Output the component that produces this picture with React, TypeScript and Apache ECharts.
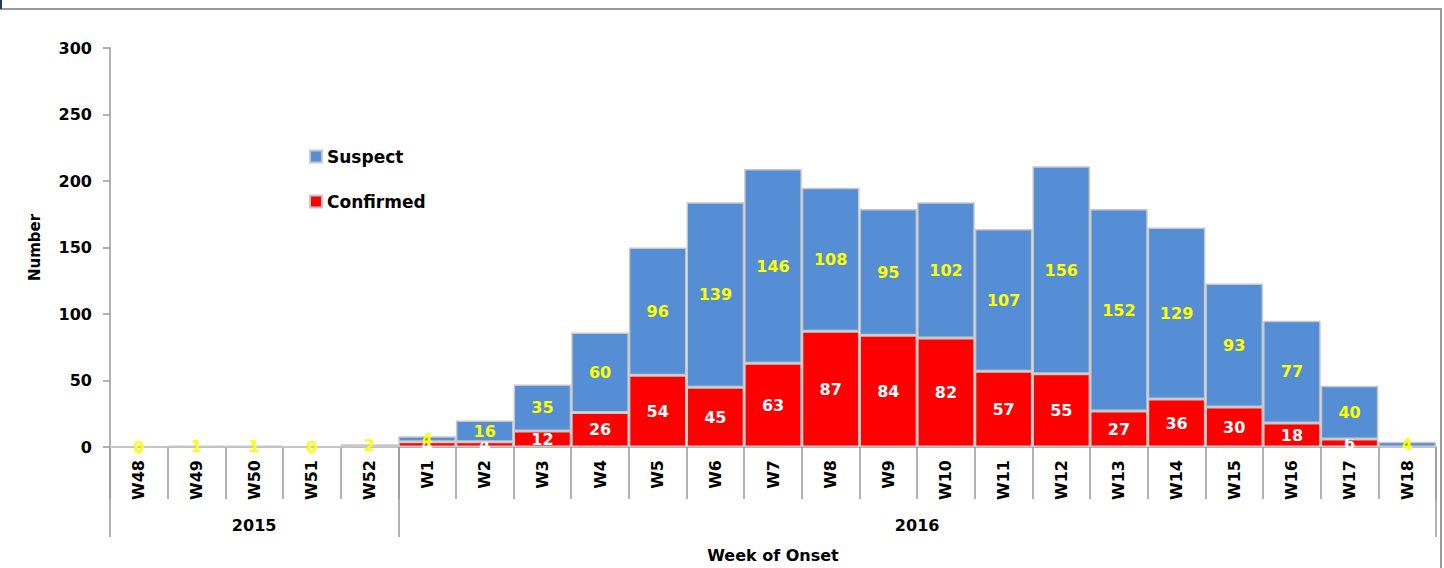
import React, { useEffect, useRef } from "react";
import * as echarts from "echarts";

const weeks = ["W48", "W49", "W50", "W51", "W52", "W1", "W2", "W3", "W4", "W5", "W6", "W7", "W8", "W9", "W10", "W11", "W12", "W13", "W14", "W15", "W16", "W17", "W18"];
const years = ["2015", "2016"];
const weeksPerYear = [5, 18];
const confirmed = [0, 0, 0, 0, 0, 4, 4, 12, 26, 54, 45, 63, 87, 84, 82, 57, 55, 27, 36, 30, 18, 6, 0];
const suspect = [0, 1, 1, 0, 2, 4, 16, 35, 60, 96, 139, 146, 108, 95, 102, 107, 156, 152, 129, 93, 77, 40, 4];
const yMin = 0;
const yMax = 300;
const yStep = 50;

const FONT = "DejaVu Sans";

export default function App() {
  const ref = useRef<HTMLDivElement>(null);

  useEffect(() => {
    if (!ref.current) return;
    const chart = echarts.init(ref.current, null, { renderer: "svg" });

    // year grouping axis built on half-category points
    const n = weeks.length;
    const yearAxisData: string[] = new Array(2 * n + 1).fill("");
    const boundaries = new Set<number>([0]);
    let start = 0;
    years.forEach((y, i) => {
      const c = weeksPerYear[i];
      yearAxisData[2 * start + c] = y;
      start += c;
      boundaries.add(2 * start);
    });

    chart.setOption({
      animation: false,
      backgroundColor: "#ffffff",
      textStyle: { fontFamily: FONT, fontWeight: "bold" },
      graphic: [
        {
          type: "rect",
          shape: { x: -2, y: 9, width: 1443, height: 580 },
          style: { fill: "none", stroke: "#9a9a9a", lineWidth: 2 },
          silent: true,
        },
        {
          type: "line",
          shape: { x1: 1, y1: 0, x2: 1, y2: 9 },
          style: { stroke: "#1f3864", lineWidth: 2 },
          silent: true,
        },
      ],
      legend: {
        data: ["Suspect", "Confirmed"],
        orient: "vertical",
        left: 304,
        top: 143,
        itemGap: 28,
        itemWidth: 12,
        itemHeight: 12,
        icon: "rect",
        textStyle: { fontFamily: FONT, fontWeight: "bold", fontSize: 17, color: "#000" },
      },
      grid: { left: 110, right: 8, top: 48, bottom: 120 },
      xAxis: [
        {
          type: "category",
          data: weeks,
          position: "bottom",
          axisLine: { show: true, lineStyle: { color: "#999", width: 1.5 } },
          axisTick: { show: true, length: 52, interval: 0, lineStyle: { color: "#999", width: 1.5 } },
          axisLabel: {
            rotate: 90,
            interval: 0,
            margin: 13,
            fontFamily: FONT,
            fontWeight: "bold",
            fontSize: 16,
            color: "#000",
          },
        },
        {
          type: "category",
          data: yearAxisData,
          boundaryGap: false,
          position: "bottom",
          axisLine: { show: false },
          axisTick: {
            show: true,
            length: 90,
            interval: (index: number) => boundaries.has(index),
            lineStyle: { color: "#999", width: 1.5 },
          },
          axisLabel: {
            interval: (index: number, value: string) => value !== "",
            margin: 70,
            fontFamily: FONT,
            fontWeight: "bold",
            fontSize: 16,
            color: "#000",
          },
          name: "Week of Onset",
          nameLocation: "middle",
          nameGap: 100,
          nameTextStyle: { fontFamily: FONT, fontWeight: "bold", fontSize: 16, color: "#000" },
        },
      ],
      yAxis: {
        type: "value",
        min: yMin,
        max: yMax,
        interval: yStep,
        splitLine: { show: false },
        axisLine: { show: true, lineStyle: { color: "#999", width: 1.5 } },
        axisTick: { show: true, length: 7, lineStyle: { color: "#999", width: 1.5 } },
        axisLabel: { fontFamily: FONT, fontWeight: "bold", fontSize: 16, color: "#000", margin: 18 },
        name: "Number",
        nameLocation: "middle",
        nameRotate: 90,
        nameGap: 68,
        nameTextStyle: { fontFamily: FONT, fontWeight: "bold", fontSize: 15, color: "#000" },
      },
      series: [
        {
          name: "Confirmed",
          type: "bar",
          stack: "total",
          xAxisIndex: 0,
          data: confirmed,
          barCategoryGap: "0%",
          itemStyle: { color: "#ff0000", borderColor: "#c8c8c8", borderWidth: 1.5 },
          label: {
            show: true,
            position: "inside",
            formatter: (p: any) => (p.value === 0 ? "" : String(p.value)),
            color: "#ffffff",
            fontFamily: FONT,
            fontWeight: "bold",
            fontSize: 16,
          },
        },
        {
          name: "Suspect",
          type: "bar",
          stack: "total",
          xAxisIndex: 0,
          data: suspect,
          barCategoryGap: "0%",
          itemStyle: { color: "#558ed5", borderColor: "#c8c8c8", borderWidth: 1.5 },
          label: {
            show: true,
            position: "inside",
            formatter: (p: any) => String(p.value),
            color: "#ffff00",
            fontFamily: FONT,
            fontWeight: "bold",
            fontSize: 16,
          },
          z: 3,
        },
      ],
    });

    return () => chart.dispose();
  }, []);

  return (
    <div
      ref={ref}
      style={{ position: "fixed", left: 0, top: 0, width: 1444, height: 568 }}
    />
  );
}
